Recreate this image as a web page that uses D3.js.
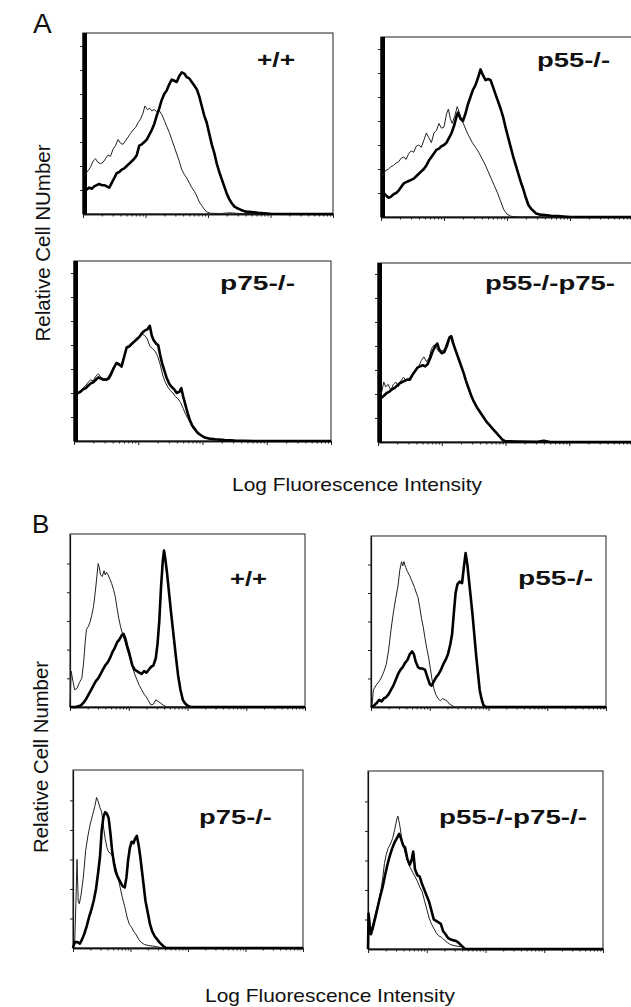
<!DOCTYPE html>
<html>
<head>
<meta charset="utf-8">
<script src="https://cdn.jsdelivr.net/npm/d3@7/dist/d3.min.js"></script>
<style>
  html, body { margin: 0; padding: 0; background: #fff; }
  svg { display: block; }
  text { font-family: "Liberation Sans", Arial, Helvetica, sans-serif; fill: #111; }
</style>
</head>
<body>
<svg id="chart" width="631" height="1007"></svg>
<script>
// ---------------- DATA (x = log10 fluorescence, decades 0..4; y = relative cell number) ----------------
const xDecades = [0, 1, 2, 3, 4];
const yTicksA = [1, 2, 3, 4, 5, 6, 7];
const yTicksB = [1, 2, 3, 4, 5];
const panelLabelsA = ["+/+", "p55-/-", "p75-/-", "p55-/-p75-"];
const panelLabelsB = ["+/+", "p55-/-", "p75-/-", "p55-/-p75-/-"];
const yTitleA = "Relative Cell NUmber";
const yTitleB = "Relative Cell Number";
const xTitle = "Log Fluorescence Intensity";

// Panel A, +/+
const A_wt_thin = [[0.02,1.6],[0.05,1.7],[0.08,1.8],[0.12,1.95],[0.16,2.2],[0.2,2.3],[0.24,2.15],[0.28,2.1],[0.32,2.15],[0.36,2.3],[0.4,2.45],[0.44,2.4],[0.48,2.7],[0.52,2.85],[0.56,3.1],[0.6,2.95],[0.64,2.9],[0.68,3.05],[0.72,3.2],[0.76,3.35],[0.8,3.5],[0.84,3.6],[0.88,3.8],[0.92,3.95],[0.96,4.2],[0.99,4.5],[1.03,4.35],[1.07,4.4],[1.1,4.3],[1.14,4.35],[1.18,4.25],[1.22,4.3],[1.26,4.15],[1.3,3.9],[1.34,3.65],[1.38,3.4],[1.42,3.1],[1.46,2.8],[1.5,2.5],[1.54,2.2],[1.58,1.85],[1.62,1.65],[1.66,1.5],[1.7,1.3],[1.74,1.1],[1.78,0.95],[1.82,0.75],[1.86,0.5],[1.9,0.35],[1.94,0.2],[1.98,0.08],[2.05,0.03],[2.2,0.02],[2.35,0.05],[2.5,0.02],[3.0,0],[4.0,0]];
const A_wt_thick = [[0.02,1.0],[0.05,1.0],[0.1,1.1],[0.14,1.05],[0.18,1.15],[0.22,1.2],[0.26,1.25],[0.3,1.2],[0.34,1.2],[0.38,1.15],[0.42,1.1],[0.46,1.3],[0.5,1.5],[0.54,1.7],[0.58,1.75],[0.62,1.85],[0.66,1.9],[0.7,2.0],[0.74,2.1],[0.78,2.2],[0.82,2.3],[0.86,2.45],[0.9,2.85],[0.94,2.9],[0.98,3.0],[1.02,3.1],[1.06,3.3],[1.1,3.5],[1.14,3.75],[1.18,4.1],[1.22,4.4],[1.26,4.75],[1.3,5.0],[1.34,5.15],[1.38,5.4],[1.42,5.6],[1.46,5.55],[1.5,5.5],[1.54,5.75],[1.58,5.9],[1.62,5.85],[1.66,5.7],[1.7,5.65],[1.74,5.5],[1.78,5.35],[1.82,5.2],[1.86,4.9],[1.9,4.5],[1.94,4.1],[1.98,3.8],[2.02,3.35],[2.06,2.9],[2.1,2.55],[2.14,2.1],[2.18,1.75],[2.22,1.45],[2.26,1.15],[2.3,0.85],[2.34,0.62],[2.38,0.45],[2.42,0.32],[2.46,0.25],[2.52,0.18],[2.6,0.1],[2.7,0.08],[2.8,0.05],[2.9,0.03],[3.0,0.01],[4.0,0]];
// Panel A, p55-/-
const A_p55_thin = [[0.02,1.7],[0.04,1.8],[0.08,1.95],[0.12,2.0],[0.16,2.1],[0.2,2.15],[0.24,2.25],[0.28,2.3],[0.32,2.45],[0.36,2.5],[0.4,2.4],[0.44,2.65],[0.48,2.75],[0.52,2.7],[0.56,2.95],[0.6,3.0],[0.64,2.9],[0.68,3.2],[0.72,3.5],[0.76,3.3],[0.8,3.1],[0.84,3.5],[0.88,3.6],[0.92,3.9],[0.96,3.7],[1.0,3.75],[1.04,4.3],[1.07,4.5],[1.1,4.1],[1.13,3.9],[1.17,4.2],[1.21,4.6],[1.25,4.3],[1.29,4.0],[1.33,3.75],[1.37,3.5],[1.41,3.3],[1.45,3.1],[1.5,2.9],[1.55,2.7],[1.6,2.45],[1.65,2.2],[1.7,1.9],[1.75,1.6],[1.8,1.3],[1.85,1.0],[1.9,0.65],[1.95,0.3],[2.0,0.12],[2.06,0.03],[2.2,0],[4.0,0]];
const A_p55_thick = [[0.02,1.1],[0.04,1.0],[0.08,0.9],[0.12,0.8],[0.16,0.85],[0.2,0.95],[0.24,1.0],[0.28,1.1],[0.32,1.25],[0.36,1.4],[0.4,1.45],[0.44,1.5],[0.48,1.55],[0.52,1.6],[0.56,1.7],[0.6,1.8],[0.64,1.9],[0.68,2.0],[0.72,2.15],[0.76,2.35],[0.8,2.5],[0.84,2.65],[0.88,2.8],[0.92,2.85],[0.96,2.95],[1.0,3.0],[1.04,3.1],[1.08,3.3],[1.12,3.5],[1.16,3.8],[1.2,4.2],[1.22,4.35],[1.26,4.1],[1.3,4.0],[1.34,4.3],[1.38,4.7],[1.42,5.0],[1.46,5.3],[1.5,5.5],[1.54,5.8],[1.58,6.15],[1.62,5.9],[1.66,5.7],[1.7,5.75],[1.74,5.7],[1.78,5.4],[1.82,5.1],[1.86,4.8],[1.9,4.5],[1.94,4.15],[1.98,3.7],[2.02,3.3],[2.06,2.9],[2.1,2.5],[2.14,2.15],[2.18,1.8],[2.22,1.45],[2.26,1.15],[2.3,0.8],[2.34,0.5],[2.38,0.35],[2.42,0.25],[2.46,0.15],[2.52,0.1],[2.6,0.08],[2.7,0.05],[2.8,0.04],[2.9,0.02],[3.0,0],[4.0,0]];
// Panel A, p75-/-
const A_p75_thin = [[0.03,1.8],[0.06,1.95],[0.1,2.1],[0.14,2.2],[0.18,2.3],[0.22,2.45],[0.26,2.55],[0.3,2.5],[0.34,2.7],[0.38,2.8],[0.42,2.65],[0.46,2.6],[0.5,2.6],[0.54,2.7],[0.58,2.9],[0.62,3.1],[0.66,3.2],[0.7,3.15],[0.74,3.2],[0.78,3.55],[0.82,3.85],[0.86,3.9],[0.9,4.0],[0.94,4.1],[0.98,4.2],[1.02,4.3],[1.06,4.45],[1.1,4.4],[1.14,4.25],[1.18,3.95],[1.22,3.85],[1.26,3.75],[1.3,3.55],[1.34,3.2],[1.38,2.75],[1.42,2.45],[1.46,2.25],[1.5,2.1],[1.54,2.0],[1.58,1.85],[1.62,1.75],[1.66,1.6],[1.7,1.35],[1.74,1.1],[1.78,0.9],[1.82,0.7],[1.86,0.5],[1.9,0.38],[1.95,0.28],[2.0,0.2],[2.1,0.12],[2.2,0.06],[2.4,0.03],[2.8,0],[4.0,0]];
const A_p75_thick = [[0.03,1.9],[0.06,2.0],[0.1,2.05],[0.14,2.15],[0.18,2.2],[0.22,2.3],[0.26,2.4],[0.3,2.45],[0.34,2.55],[0.38,2.65],[0.42,2.6],[0.46,2.55],[0.5,2.55],[0.54,2.6],[0.58,2.8],[0.62,3.05],[0.66,3.25],[0.7,3.2],[0.74,3.1],[0.78,3.5],[0.82,3.9],[0.86,3.95],[0.9,4.05],[0.94,4.15],[0.98,4.25],[1.02,4.35],[1.06,4.5],[1.1,4.6],[1.14,4.65],[1.18,4.8],[1.21,4.4],[1.24,4.2],[1.28,4.05],[1.31,4.0],[1.34,3.6],[1.37,3.25],[1.41,2.9],[1.44,2.65],[1.48,2.4],[1.52,2.25],[1.56,2.15],[1.6,2.0],[1.64,2.05],[1.67,2.2],[1.7,1.85],[1.73,1.55],[1.77,1.15],[1.8,0.9],[1.84,0.65],[1.88,0.5],[1.92,0.35],[1.97,0.25],[2.03,0.15],[2.1,0.1],[2.2,0.07],[2.35,0.04],[2.5,0.02],[2.8,0],[4.0,0]];
// Panel A, p55-/-p75-/-
const A_dko_thin = [[0.03,2.0],[0.06,2.1],[0.09,2.5],[0.12,2.3],[0.16,2.4],[0.2,2.15],[0.24,2.4],[0.28,2.5],[0.32,2.3],[0.36,2.55],[0.4,2.7],[0.44,2.55],[0.48,2.65],[0.52,2.7],[0.56,2.85],[0.6,3.0],[0.64,3.15],[0.68,3.4],[0.72,3.55],[0.76,3.35],[0.8,3.5],[0.84,3.9],[0.88,4.05],[0.92,3.9],[0.96,3.75],[1.0,3.8],[1.04,3.85],[1.08,4.15],[1.12,4.4],[1.15,4.45],[1.18,4.2],[1.22,3.85],[1.26,3.5],[1.3,3.2],[1.34,2.9],[1.38,2.5],[1.42,2.2],[1.46,1.9],[1.5,1.7],[1.55,1.45],[1.6,1.25],[1.65,1.05],[1.7,0.85],[1.75,0.7],[1.8,0.55],[1.85,0.4],[1.9,0.25],[1.95,0.12],[2.0,0.05],[2.1,0.02],[2.3,0],[4.0,0]];
const A_dko_thick = [[0.03,1.9],[0.06,1.85],[0.1,1.95],[0.14,2.05],[0.18,2.1],[0.22,2.2],[0.26,2.25],[0.3,2.35],[0.34,2.45],[0.38,2.5],[0.42,2.55],[0.46,2.6],[0.5,2.6],[0.54,2.8],[0.58,2.95],[0.62,3.1],[0.66,3.15],[0.7,3.2],[0.74,3.15],[0.78,3.25],[0.82,3.5],[0.86,3.8],[0.9,4.0],[0.93,4.1],[0.96,3.85],[1.0,3.7],[1.04,3.75],[1.08,4.0],[1.12,4.35],[1.15,4.4],[1.18,4.1],[1.22,3.8],[1.26,3.5],[1.3,3.2],[1.34,2.9],[1.38,2.55],[1.42,2.25],[1.46,1.95],[1.5,1.7],[1.55,1.45],[1.6,1.25],[1.65,1.05],[1.7,0.85],[1.75,0.7],[1.8,0.55],[1.85,0.4],[1.9,0.25],[1.95,0.1],[2.0,0.03],[2.2,0.02],[2.5,0.01],[2.6,0.05],[2.7,0],[4.0,0]];

// Panel B, +/+
const B_wt_thin = [[0.0,0],[0.02,1.25],[0.05,0.9],[0.08,0.6],[0.12,0.65],[0.16,0.85],[0.2,1.0],[0.23,1.5],[0.26,2.3],[0.28,2.7],[0.31,2.8],[0.34,2.95],[0.37,3.2],[0.4,3.5],[0.43,4.0],[0.46,4.6],[0.48,5.0],[0.5,4.85],[0.52,4.6],[0.55,4.55],[0.58,4.75],[0.6,4.6],[0.62,4.7],[0.65,4.6],[0.68,4.45],[0.71,4.3],[0.74,4.1],[0.77,3.85],[0.8,3.45],[0.83,3.1],[0.86,2.8],[0.9,2.5],[0.94,2.25],[0.98,1.95],[1.02,1.7],[1.06,1.4],[1.1,1.15],[1.14,0.95],[1.18,0.75],[1.22,0.6],[1.26,0.45],[1.3,0.35],[1.34,0.2],[1.38,0.07],[1.42,0.1],[1.46,0.25],[1.5,0.2],[1.55,0.12],[1.6,0.05],[1.65,0],[4.0,0]];
const B_wt_thick = [[0.0,0],[0.1,0],[0.18,0.05],[0.23,0.15],[0.28,0.3],[0.32,0.45],[0.36,0.6],[0.4,0.75],[0.44,0.9],[0.48,1.0],[0.52,1.15],[0.56,1.3],[0.6,1.45],[0.64,1.55],[0.68,1.7],[0.72,1.9],[0.76,2.05],[0.8,2.25],[0.84,2.35],[0.88,2.5],[0.91,2.55],[0.94,2.4],[0.97,2.15],[1.0,1.95],[1.03,1.7],[1.06,1.45],[1.1,1.3],[1.14,1.25],[1.18,1.2],[1.22,1.15],[1.26,1.25],[1.3,1.2],[1.34,1.3],[1.38,1.4],[1.42,1.45],[1.46,1.7],[1.49,2.2],[1.52,3.0],[1.55,4.2],[1.58,5.1],[1.6,5.45],[1.62,5.2],[1.65,4.7],[1.68,4.1],[1.72,3.3],[1.76,2.55],[1.8,1.8],[1.84,1.1],[1.88,0.6],[1.92,0.25],[1.96,0.12],[2.0,0.05],[2.05,0],[4.0,0]];
// Panel B, p55-/-
const B_p55_thin = [[0.0,0],[0.02,0.1],[0.04,0.6],[0.07,0.7],[0.1,0.8],[0.14,0.9],[0.18,1.05],[0.22,1.25],[0.26,1.5],[0.3,2.0],[0.34,2.7],[0.38,3.3],[0.42,3.8],[0.46,4.25],[0.49,4.8],[0.52,5.1],[0.54,4.95],[0.56,5.1],[0.59,4.9],[0.62,4.75],[0.66,4.6],[0.7,4.4],[0.74,4.2],[0.78,3.95],[0.8,3.85],[0.83,3.5],[0.86,3.1],[0.89,2.8],[0.92,2.4],[0.95,2.05],[0.98,1.75],[1.01,1.35],[1.04,0.95],[1.07,0.65],[1.1,0.45],[1.14,0.3],[1.18,0.22],[1.22,0.3],[1.26,0.25],[1.3,0.2],[1.34,0.1],[1.38,0.05],[1.42,0],[4.0,0]];
const B_p55_thick = [[0.0,0],[0.05,0.05],[0.1,0.15],[0.14,0.25],[0.18,0.2],[0.22,0.3],[0.26,0.35],[0.3,0.45],[0.34,0.6],[0.38,0.75],[0.42,0.95],[0.46,1.15],[0.5,1.3],[0.54,1.4],[0.58,1.55],[0.62,1.65],[0.66,1.85],[0.7,1.95],[0.73,1.85],[0.76,1.6],[0.8,1.4],[0.84,1.35],[0.88,1.35],[0.92,1.3],[0.96,1.05],[1.0,0.8],[1.03,0.75],[1.07,0.9],[1.11,1.05],[1.15,1.15],[1.19,1.3],[1.23,1.5],[1.27,1.65],[1.31,1.85],[1.35,2.2],[1.38,2.55],[1.41,3.3],[1.44,4.0],[1.47,4.3],[1.51,4.4],[1.55,4.35],[1.58,4.9],[1.61,5.4],[1.64,5.0],[1.67,4.4],[1.7,3.8],[1.73,3.2],[1.76,2.5],[1.79,1.8],[1.82,1.2],[1.85,0.6],[1.88,0.3],[1.91,0.08],[1.95,0],[4.0,0]];
// Panel B, p75-/-
const B_p75_thin = [[0.0,0],[0.03,0.2],[0.05,1.5],[0.07,3.0],[0.09,1.6],[0.11,1.5],[0.14,1.8],[0.18,2.4],[0.22,3.3],[0.26,3.8],[0.3,4.2],[0.34,4.5],[0.38,4.8],[0.41,5.1],[0.44,4.95],[0.47,4.75],[0.5,4.6],[0.53,4.1],[0.56,3.7],[0.59,3.4],[0.62,3.25],[0.66,3.2],[0.7,3.05],[0.74,2.75],[0.78,2.4],[0.82,2.05],[0.86,1.7],[0.9,1.4],[0.94,1.05],[0.98,0.8],[1.02,0.7],[1.06,0.55],[1.1,0.45],[1.14,0.3],[1.18,0.2],[1.24,0.12],[1.32,0.08],[1.45,0.05],[1.55,0],[4.0,0]];
const B_p75_thick = [[0.0,0],[0.03,0.2],[0.08,0.2],[0.12,0.15],[0.16,0.3],[0.2,0.5],[0.24,0.75],[0.28,1.05],[0.32,1.3],[0.36,1.6],[0.4,2.0],[0.44,2.6],[0.47,3.1],[0.5,4.0],[0.53,4.45],[0.56,4.6],[0.59,4.55],[0.62,4.4],[0.65,3.9],[0.68,3.3],[0.71,2.9],[0.74,2.6],[0.78,2.4],[0.82,2.25],[0.86,2.1],[0.9,2.05],[0.93,2.4],[0.96,3.0],[0.99,3.4],[1.02,3.6],[1.05,3.55],[1.08,3.7],[1.11,3.8],[1.14,3.5],[1.17,3.1],[1.2,2.6],[1.23,2.1],[1.26,1.6],[1.3,1.2],[1.34,0.8],[1.38,0.55],[1.42,0.4],[1.46,0.3],[1.5,0.2],[1.54,0.12],[1.58,0.05],[1.62,0],[4.0,0]];
// Panel B, p55-/-p75-/-
const B_dko_thin = [[0.0,0],[0.01,0.6],[0.04,0.5],[0.07,0.75],[0.1,1.0],[0.14,1.3],[0.18,1.6],[0.22,2.0],[0.25,2.4],[0.28,2.9],[0.31,3.2],[0.34,3.4],[0.38,3.55],[0.42,3.75],[0.46,4.1],[0.49,4.4],[0.51,4.5],[0.54,4.2],[0.57,3.8],[0.6,3.5],[0.64,3.2],[0.68,2.95],[0.72,2.75],[0.76,2.6],[0.8,2.45],[0.84,2.3],[0.88,2.1],[0.92,1.95],[0.96,1.65],[1.0,1.35],[1.04,1.05],[1.08,0.85],[1.12,0.7],[1.16,0.55],[1.2,0.45],[1.25,0.4],[1.3,0.3],[1.35,0.22],[1.4,0.15],[1.5,0.1],[1.6,0.08],[1.66,0],[4.0,0]];
const B_dko_thick = [[0.0,0],[0.01,1.2],[0.03,0.8],[0.05,0.5],[0.08,0.7],[0.11,0.95],[0.14,1.2],[0.18,1.55],[0.21,1.8],[0.25,2.1],[0.29,2.5],[0.33,2.85],[0.37,3.15],[0.41,3.4],[0.45,3.6],[0.49,3.75],[0.53,3.9],[0.56,3.75],[0.6,3.5],[0.63,3.45],[0.67,3.05],[0.71,2.85],[0.74,3.0],[0.77,3.3],[0.8,2.7],[0.84,2.5],[0.88,2.45],[0.92,2.2],[0.96,2.0],[1.0,1.8],[1.04,1.6],[1.08,1.3],[1.12,1.0],[1.16,0.95],[1.2,0.9],[1.24,0.85],[1.28,0.6],[1.32,0.5],[1.36,0.38],[1.4,0.33],[1.45,0.3],[1.5,0.27],[1.55,0.2],[1.6,0.1],[1.65,0],[4.0,0]];

// ---------------- LAYOUT ----------------
const panels = [
  {x:83,  y:33,  w:250, h:181, yMax:7.54, ticks:yTicksA, label:panelLabelsA[0], lx:257, ly:67,  lw:38,  thick:true,  thin:A_wt_thin,  bold:A_wt_thick},
  {x:381, y:37,  w:252, h:180, yMax:7.5,  ticks:yTicksA, label:panelLabelsA[1], lx:537, ly:67,  lw:73,  thick:true,  thin:A_p55_thin, bold:A_p55_thick},
  {x:74,  y:261, w:257, h:180, yMax:7.5,  ticks:yTicksA, label:panelLabelsA[2], lx:220, ly:290, lw:75,  thick:true,  thin:A_p75_thin, bold:A_p75_thick},
  {x:378, y:263, w:255, h:179, yMax:7.46, ticks:yTicksA, label:panelLabelsA[3], lx:485, ly:290, lw:130, thick:true,  thin:A_dko_thin, bold:A_dko_thick},
  {x:70,  y:534, w:235, h:173, yMax:6.03, ticks:yTicksB, label:panelLabelsB[0], lx:230, ly:586, lw:37,  thick:false, thin:B_wt_thin,  bold:B_wt_thick},
  {x:371, y:536, w:235, h:171, yMax:6.0,  ticks:yTicksB, label:panelLabelsB[1], lx:518, ly:585, lw:75,  thick:false, thin:B_p55_thin, bold:B_p55_thick},
  {x:73,  y:770, w:230, h:178, yMax:6.03, ticks:yTicksB, label:panelLabelsB[2], lx:199, ly:824, lw:73,  thick:false, thin:B_p75_thin, bold:B_p75_thick},
  {x:368, y:771, w:235, h:178, yMax:6.03, ticks:yTicksB, label:panelLabelsB[3], lx:439, ly:824, lw:148, thick:false, thin:B_dko_thin, bold:B_dko_thick}
];

const svg = d3.select("#chart");

// minor/major log tick positions in decades
const majorTicks = xDecades;
const minorTicks = [];
for (let dec = 0; dec < 4; dec++) for (let k = 2; k <= 9; k++) minorTicks.push(dec + Math.log10(k));

panels.forEach(p => {
  const x = d3.scaleLinear().domain([0, 4]).range([p.x, p.x + p.w]);
  const y = d3.scaleLinear().domain([0, p.yMax]).range([p.y + p.h, p.y]);
  const g = svg.append("g");

  // frame
  g.append("rect")
    .attr("x", p.x).attr("y", p.y).attr("width", p.w).attr("height", p.h)
    .attr("fill", "none").attr("stroke", "#333").attr("stroke-width", 1.1);

  // x axis (log ticks)
  const xaMinor = d3.axisBottom(x).tickValues(minorTicks).tickSize(2.5).tickFormat("").tickSizeOuter(0);
  const xaMajor = d3.axisBottom(x).tickValues(majorTicks).tickSize(4).tickFormat("").tickSizeOuter(0);
  [xaMinor, xaMajor].forEach(ax => {
    const a = g.append("g").attr("transform", `translate(0,${p.y + p.h})`).call(ax);
    a.select(".domain").attr("stroke", "#111").attr("stroke-width", 1.4);
    a.selectAll(".tick line").attr("stroke", "#222").attr("stroke-width", 1);
  });

  // y axis
  const ya = d3.axisLeft(y).tickValues(p.ticks).tickSize(3).tickFormat("").tickSizeOuter(0);
  const ay = g.append("g").attr("transform", `translate(${p.x},0)`).call(ya);
  ay.select(".domain").attr("stroke", "#111").attr("stroke-width", 1.2);
  ay.selectAll(".tick line").attr("stroke", "#222").attr("stroke-width", 1);

  if (p.thick) {
    g.append("rect").attr("x", p.x - 0.5).attr("y", p.y).attr("width", 4.5).attr("height", p.h)
      .attr("fill", "#000");
  }

  const line = d3.line().x(d => x(d[0])).y(d => y(d[1]));
  g.append("path").datum(p.thin).attr("d", line)
    .attr("fill", "none").attr("stroke", "#222").attr("stroke-width", 1).attr("stroke-linejoin", "round");
  g.append("path").datum(p.bold).attr("d", line)
    .attr("fill", "none").attr("stroke", "#000").attr("stroke-width", 2.6).attr("stroke-linejoin", "round");

  g.append("text").attr("x", p.lx).attr("y", p.ly)
    .attr("font-size", 21).attr("font-weight", "bold")
    .attr("textLength", p.lw).attr("lengthAdjust", "spacingAndGlyphs")
    .text(p.label);
});

// section letters
svg.append("text").attr("x", 33).attr("y", 33).attr("font-size", 28).text("A");
svg.append("text").attr("x", 32).attr("y", 533).attr("font-size", 26).text("B");

// axis titles
svg.append("text").attr("transform", "translate(50,243) rotate(-90)")
  .attr("text-anchor", "middle").attr("font-size", 20)
  .attr("textLength", 197).attr("lengthAdjust", "spacingAndGlyphs").text(yTitleA);
svg.append("text").attr("transform", "translate(48,757) rotate(-90)")
  .attr("text-anchor", "middle").attr("font-size", 20)
  .attr("textLength", 192).attr("lengthAdjust", "spacingAndGlyphs").text(yTitleB);
svg.append("text").attr("x", 357).attr("y", 491)
  .attr("text-anchor", "middle").attr("font-size", 19)
  .attr("textLength", 250).attr("lengthAdjust", "spacingAndGlyphs").text(xTitle);
svg.append("text").attr("x", 330).attr("y", 1002)
  .attr("text-anchor", "middle").attr("font-size", 19)
  .attr("textLength", 250).attr("lengthAdjust", "spacingAndGlyphs").text(xTitle);
</script>
</body>
</html>
